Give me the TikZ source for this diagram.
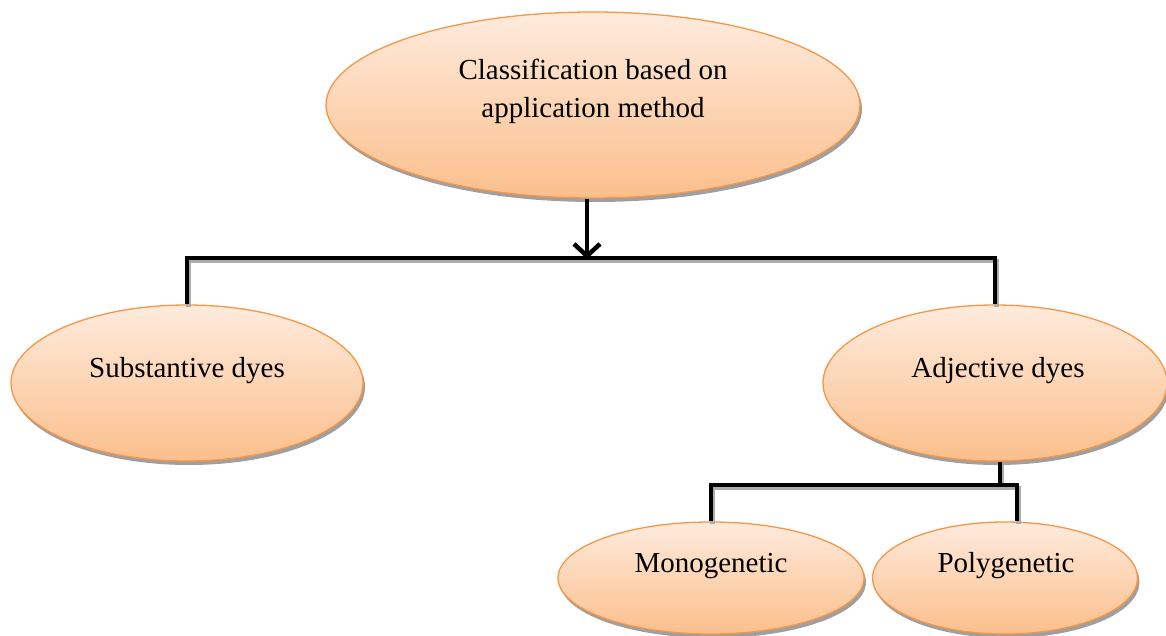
\documentclass[tikz,border=0pt]{standalone}
\usepackage{fontspec}
\setmainfont{Liberation Serif}
\usetikzlibrary{shapes.geometric,shadows,arrows.meta}
\definecolor{ebord}{HTML}{F79646}
\definecolor{etop}{HTML}{FEEBDD}
\definecolor{ebot}{HTML}{FBBF8C}
\tikzset{
  blob/.style={ellipse, draw=ebord, line width=1.3pt, inner sep=0pt,
    top color=etop, bottom color=ebot,
    drop shadow={shadow xshift=2pt, shadow yshift=-4pt, fill=gray!75, opacity=1}},
  lbl/.style={font=\fontsize{29}{38}\selectfont, align=center, inner sep=0pt},
  conn/.style={line width=4.5pt, black,
    preaction={draw=gray!65, line width=4.5pt, transform canvas={xshift=1.5pt, yshift=-3pt}}},
}
\begin{document}
\begin{tikzpicture}[x=1pt,y=-1pt]
\useasboundingbox (0,0) rectangle (1166,636);
% ellipses
\node[blob, minimum width=534pt, minimum height=186pt] (top) at (593,105) {};
\node[blob, minimum width=352pt, minimum height=156pt] (sub) at (187,383) {};
\node[blob, minimum width=344pt, minimum height=156pt] (adj) at (995,383) {};
\node[blob, minimum width=306pt, minimum height=112pt] (mono) at (711,578) {};
\node[blob, minimum width=265pt, minimum height=112pt] (poly) at (1005,578) {};
% texts
\node[lbl] (topt) at (593,91) {Classification based on\\application method};
\node[lbl] (subt) at (187,371) {Substantive dyes};
\node[lbl] (adjt) at (998,371) {Adjective dyes};
\node[lbl] (monot) at (711,566) {Monogenetic};
\node[lbl] (polyt) at (1006,566) {Polygenetic};
% junctions
\coordinate (j1) at (587,258);
\coordinate (j2) at (1000,485);
% connectors
\draw[conn] (sub.north) -- (sub.north |- j1) -- (adj.north |- j1) -- (adj.north);
\draw[conn] (adj.south -| j2) -- (j2);
\draw[conn] (mono.north) -- (mono.north |- j2) -- ([xshift=12pt]poly.north |- j2) -- ([xshift=12pt]poly.north);
\draw[line width=4.5pt, -{Straight Barb[length=12pt,width=26pt]}] (top.south -| j1) -- ([yshift=-1pt]j1);
\end{tikzpicture}
\end{document}
